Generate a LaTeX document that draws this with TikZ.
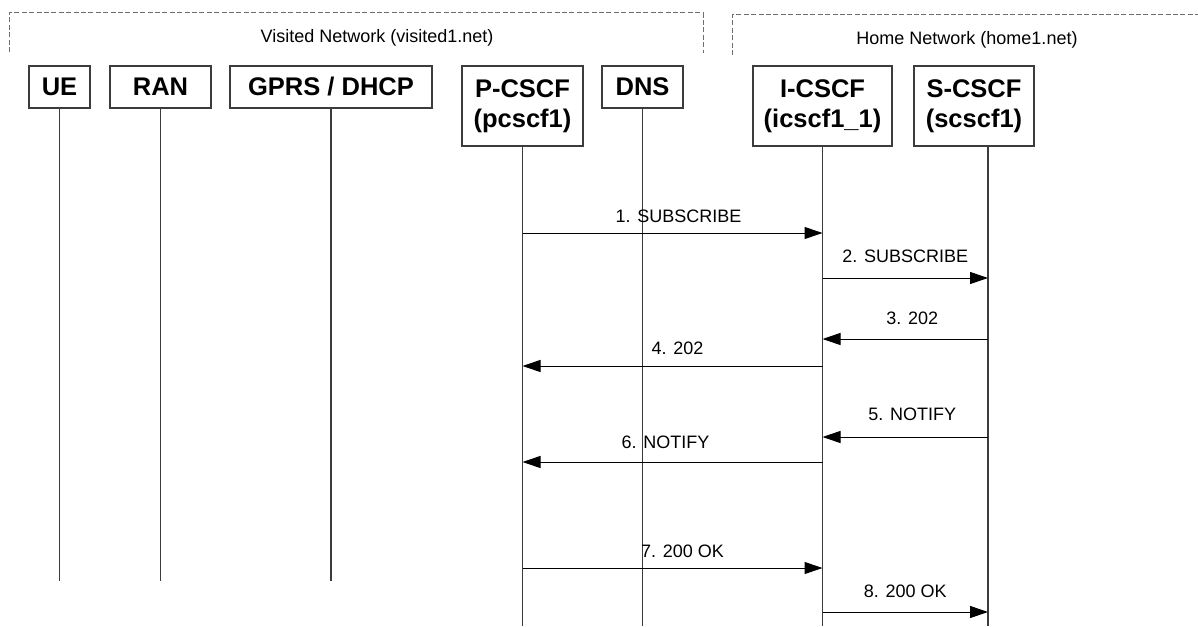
\documentclass[tikz,border=0pt]{standalone}
\usepackage{fontspec}
\setmainfont{Liberation Sans}
\usetikzlibrary{arrows.meta}
\definecolor{boxgray}{RGB}{60,60,60}
\definecolor{dashgray}{RGB}{110,110,110}

\begin{document}
\begin{tikzpicture}[x=0.5pt, y=-0.5pt,
    entity/.style={draw=boxgray, line width=0.6pt, fill=white, minimum height=21pt, inner sep=0pt, font=\fontsize{12.75}{15}\selectfont\bfseries, align=center},
    tallentity/.style={entity, minimum height=40pt},
    lifeline/.style={draw=boxgray, line width=0.6pt},
    msg/.style={-{Triangle[length=9pt,width=6pt]}, line width=0.5pt},
    msglabel/.style={inner sep=0pt, font=\fontsize{9}{11}\selectfont},
    netbox/.style={draw=dashgray, dash pattern=on 2.5pt off 1.2pt, line width=0.5pt}]
    \useasboundingbox (0,0) rectangle (1198,626);

    % network areas
    \draw[netbox] (9,52) -- (9,13) -- (703,13) -- (703,53);
    \node[msglabel] (visitednet) at (377,38) {Visited Network (visited1.net)};
    \draw[netbox] (732,55) -- (732,15) -- (1198,15);
    \node[msglabel] (homenet) at (967,40) {Home Network (home1.net)};

    % entities
    \node[entity, minimum width=30.5pt] at (59.5,87) (ue) {UE};
    \node[entity, minimum width=50.5pt] at (160.5,87) (ran) {RAN};
    \node[entity, minimum width=101pt] at (331,87) (gprs) {GPRS / DHCP};
    \node[tallentity, minimum width=60.5pt] at (522.5,106) (pcscf) {P-CSCF\\(pcscf1)};
    \node[entity, minimum width=40.5pt] at (642.5,87) (dns) {DNS};
    \node[tallentity, minimum width=69.5pt] at (822.5,106) (icscf) {I-CSCF\\(icscf1\_1)};
    \node[tallentity, minimum width=60pt] at (974,106) (scscf) {S-CSCF\\(scscf1)};

    % lifelines
    \coordinate (scscfline) at (988,626);
    \draw[lifeline] (ue.south) -- (ue.south |- 0,581);
    \draw[lifeline] (ran.south) -- (ran.south |- 0,581);
    \draw[lifeline] (gprs.south) -- (gprs.south |- 0,581);
    \draw[lifeline] (pcscf.south) -- (pcscf.south |- 0,626);
    \draw[lifeline] (dns.south) -- (dns.south |- 0,626);
    \draw[lifeline] (icscf.south) -- (icscf.south |- 0,626);
    \draw[lifeline] (scscfline |- scscf.south) -- (scscfline);

    % messages
    \draw[msg] (pcscf.south |- 0,233) -- node[msglabel, above=4.8pt, xshift=3pt] {1. SUBSCRIBE} (icscf.south |- 0,233);
    \draw[msg] (icscf.south |- 0,278) -- node[msglabel, above=7.3pt] {2. SUBSCRIBE} (scscfline |- 0,278);
    \draw[msg] (scscfline |- 0,339) -- node[msglabel, above=6.8pt, xshift=3.5pt] {3. 202} (icscf.south |- 0,339);
    \draw[msg] (icscf.south |- 0,366) -- node[msglabel, above=5.3pt, xshift=2.5pt] {4. 202} (pcscf.south |- 0,366);
    \draw[msg] (scscfline |- 0,437) -- node[msglabel, above=7.8pt, xshift=3.5pt] {5. NOTIFY} (icscf.south |- 0,437);
    \draw[msg] (icscf.south |- 0,462) -- node[msglabel, above=6.3pt, xshift=-3.5pt] {6. NOTIFY} (pcscf.south |- 0,462);
    \draw[msg] (pcscf.south |- 0,568) -- node[msglabel, above=4.8pt, xshift=5pt] {7. 200 OK} (icscf.south |- 0,568);
    \draw[msg] (icscf.south |- 0,612) -- node[msglabel, above=6.8pt] {8. 200 OK} (scscfline |- 0,612);
\end{tikzpicture}
\end{document}
